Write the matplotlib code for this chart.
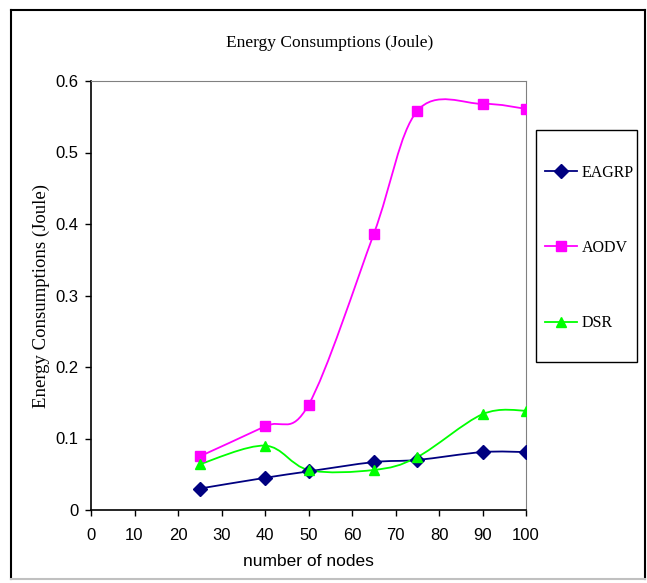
import matplotlib
matplotlib.use("Agg")
import matplotlib.pyplot as plt
from matplotlib.path import Path
from matplotlib.patches import PathPatch, Rectangle
from matplotlib.lines import Line2D

nodes = [25, 40, 50, 65, 75, 90, 100]
eagrp = [0.030, 0.045, 0.054, 0.067, 0.070, 0.081, 0.081]
aodv = [0.075, 0.117, 0.147, 0.386, 0.558, 0.568, 0.561]
dsr = [0.064, 0.090, 0.056, 0.056, 0.074, 0.134, 0.139]

x_ticks = list(range(0, 101, 10))
y_ticks = [0, 0.1, 0.2, 0.3, 0.4, 0.5, 0.6]
y_labels = ["0", "0.1", "0.2", "0.3", "0.4", "0.5", "0.6"]

sans = "Liberation Sans"
serif = "Liberation Serif"
W, H = 647, 583


def smooth_path(x, y):
    # excel-like smoothed line: catmull-rom turned into cubic beziers
    pts = list(zip(x, y))
    n = len(pts)
    verts = [pts[0]]
    codes = [Path.MOVETO]
    for i in range(n - 1):
        p0 = pts[max(i - 1, 0)]
        p1 = pts[i]
        p2 = pts[i + 1]
        p3 = pts[min(i + 2, n - 1)]
        c1 = (p1[0] + (p2[0] - p0[0]) / 6.0, p1[1] + (p2[1] - p0[1]) / 6.0)
        c2 = (p2[0] - (p3[0] - p1[0]) / 6.0, p2[1] - (p3[1] - p1[1]) / 6.0)
        verts += [c1, c2, p2]
        codes += [Path.CURVE4] * 3
    return Path(verts, codes)


def fx(px):
    return px / W


def fy(py):
    return 1 - py / H


fig = plt.figure(figsize=(W / 100, H / 100), dpi=100)
ax = fig.add_axes([fx(91), fy(510), (526 - 91) / W, (510 - 81) / H])

series = [
    ("EAGRP", eagrp, "#000080", "D", 7),
    ("AODV", aodv, "#FF00FF", "s", 6.5),
    ("DSR", dsr, "#00FF00", "^", 7.5),
]

handles = []
for name, vals, col, mk, ms in series:
    ax.add_patch(PathPatch(smooth_path(nodes, vals), facecolor="none",
                           edgecolor=col, lw=1.3, zorder=2))
    ax.plot(nodes, vals, ls="none", marker=mk, ms=ms, color=col, zorder=3)
    handles.append(Line2D([], [], color=col, lw=1.3, marker=mk, ms=ms, label=name))

ax.set_xlim(0, 100)
ax.set_ylim(0, 0.6)
ax.set_xticks(x_ticks)
ax.set_yticks(y_ticks)
ax.set_yticklabels(y_labels)
for lab in ax.get_xticklabels() + ax.get_yticklabels():
    lab.set_fontfamily(sans)
    lab.set_fontsize(12)
ax.tick_params(axis="x", direction="out", length=4, width=1, pad=9)
ax.tick_params(axis="y", direction="out", length=4, width=1, pad=5)

for s in ["top", "right"]:
    ax.spines[s].set_color("#808080")
for s in ["left", "bottom"]:
    ax.spines[s].set_color("black")
    ax.spines[s].set_linewidth(1.2)

ax.set_xlabel("number of nodes", fontfamily=sans, fontsize=12.5, labelpad=8)
ax.set_ylabel("Energy Consumptions (Joule)", fontfamily=serif, fontsize=13.5, labelpad=4)

fig.text(fx(330), fy(43), "Energy Consumptions (Joule)", ha="center",
         va="center", fontfamily=serif, fontsize=12.5)

# legend box drawn separately so its padding can differ per side
fig.add_artist(Rectangle((fx(536), fy(362)), (637 - 536) / W, (362 - 130) / H,
                         transform=fig.transFigure, facecolor="white",
                         edgecolor="black", lw=1.0, zorder=4))
leg = fig.legend(handles=handles, loc="center left",
                 bbox_to_anchor=(fx(545), fy(248)),
                 prop={"family": serif, "size": 11.5}, frameon=False,
                 labelspacing=3.7, handlelength=2.0, handletextpad=0.3,
                 borderpad=0, borderaxespad=0)
leg.set_zorder(5)

# outer chart border
fig.add_artist(Line2D([fx(11), fx(11)], [fy(579), fy(10)], color="black", lw=1.5))
fig.add_artist(Line2D([fx(11), fx(645)], [fy(10), fy(10)], color="black", lw=1.5))
fig.add_artist(Line2D([fx(645), fx(645)], [fy(579), fy(10)], color="black", lw=1.5))
fig.add_artist(Line2D([fx(11), fx(645)], [fy(579), fy(579)], color="#c0c0c0", lw=1.5))

fig.savefig("out.png", dpi=100)
